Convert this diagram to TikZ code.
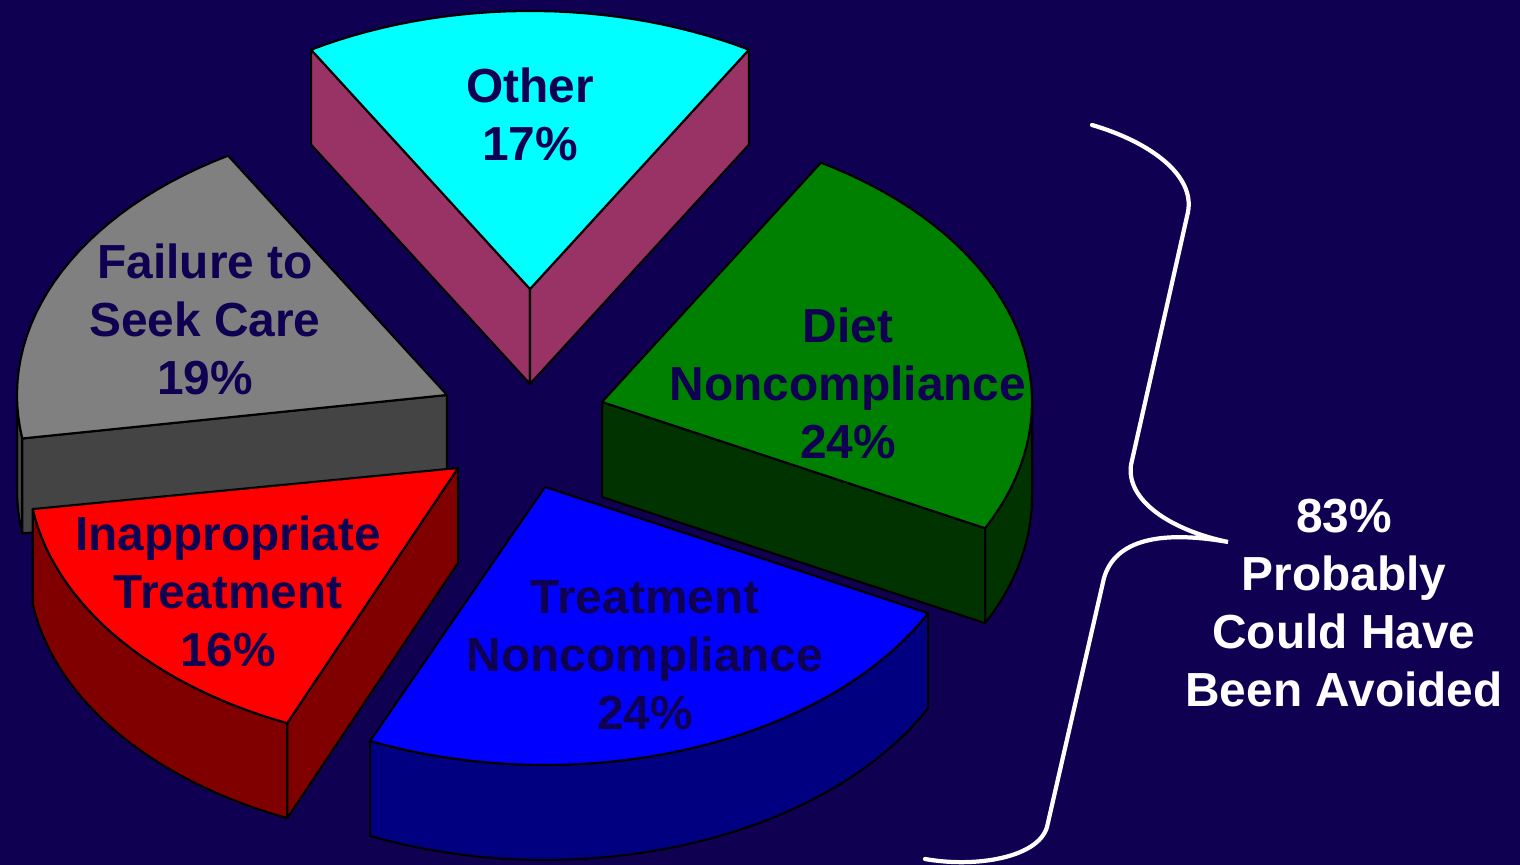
\documentclass[tikz,border=0pt]{standalone}
\usepackage{fontspec}
\setmainfont{Liberation Sans}
\usepackage{tikz}
\definecolor{ChartNavy}{HTML}{100052}
\definecolor{OtherTop}{HTML}{00FFFF}
\definecolor{OtherSide}{HTML}{993366}
\definecolor{DietTop}{HTML}{008000}
\definecolor{DietSide}{HTML}{003300}
\definecolor{TreatTop}{HTML}{0000FF}
\definecolor{TreatSide}{HTML}{000080}
\definecolor{InappTop}{HTML}{FF0000}
\definecolor{InappSide}{HTML}{800000}
\definecolor{FailTop}{HTML}{808080}
\definecolor{FailSide}{HTML}{444444}
\newcommand{\pieRX}{430}
\newcommand{\pieRY}{278}
\newcommand{\pieD}{95}

\begin{document}
\begin{tikzpicture}[x=0.01cm, y=-0.01cm,
  face/.style={draw=black, line width=0.6pt, line join=round},
  label/.style={font=\fontsize{13.6pt}{16.5pt}\selectfont\bfseries, align=center, inner sep=0pt, text=ChartNavy}]
  \useasboundingbox (0,0) rectangle (1520,865);
  \fill[ChartNavy] (-10,-10) rectangle (1530,875);
  % Other (back slice)
  \begin{scope}[shift={(530,289)}]
    \filldraw[face, fill=OtherSide] (0,0) -- ({\pieRX*cos(120.6)},{-\pieRY*sin(120.6)}) -- ++(0,\pieD) -- (0,\pieD) -- cycle;
    \filldraw[face, fill=OtherSide] (0,0) -- ({\pieRX*cos(59.4)},{-\pieRY*sin(59.4)}) -- ++(0,\pieD) -- (0,\pieD) -- cycle;
    \filldraw[face, fill=OtherTop] (0,0) -- plot[domain=59.4:120.6, samples=30] ({\pieRX*cos(\x)},{-\pieRY*sin(\x)}) -- cycle;
  \end{scope}
  % Failure to Seek Care
  \begin{scope}[shift={(447,395)}]
    \filldraw[face, fill=FailSide] plot[domain=180:189, samples=6] ({\pieRX*cos(\x)},{-\pieRY*sin(\x)}) -- plot[domain=189:180, samples=6] ({\pieRX*cos(\x)},{-\pieRY*sin(\x)+\pieD}) -- cycle;
    \filldraw[face, fill=FailSide] (0,0) -- ({\pieRX*cos(189)},{-\pieRY*sin(189)}) -- ++(0,\pieD) -- (0,\pieD) -- cycle;
    \filldraw[face, fill=FailTop] (0,0) -- plot[domain=120.6:189, samples=30] ({\pieRX*cos(\x)},{-\pieRY*sin(\x)}) -- cycle;
  \end{scope}
  % Diet Noncompliance
  \begin{scope}[shift={(602,402)}]
    \filldraw[face, fill=DietSide] plot[domain=-27:0, samples=12] ({\pieRX*cos(\x)},{-\pieRY*sin(\x)}) -- plot[domain=0:-27, samples=12] ({\pieRX*cos(\x)},{-\pieRY*sin(\x)+\pieD}) -- cycle;
    \filldraw[face, fill=DietSide] (0,0) -- ({\pieRX*cos(-27)},{-\pieRY*sin(-27)}) -- ++(0,\pieD) -- (0,\pieD) -- cycle;
    \filldraw[face, fill=DietTop] (0,0) -- plot[domain=-27:59.4, samples=40] ({\pieRX*cos(\x)},{-\pieRY*sin(\x)}) -- cycle;
  \end{scope}
  % Inappropriate Treatment
  \begin{scope}[shift={(458,468)}]
    \filldraw[face, fill=InappSide] plot[domain=-171.5:-113.4, samples=30] ({\pieRX*cos(\x)},{-\pieRY*sin(\x)}) -- plot[domain=-113.4:-171.5, samples=30] ({\pieRX*cos(\x)},{-\pieRY*sin(\x)+\pieD}) -- cycle;
    \filldraw[face, fill=InappSide] (0,0) -- ({\pieRX*cos(-113.4)},{-\pieRY*sin(-113.4)}) -- ++(0,\pieD) -- (0,\pieD) -- cycle;
    \filldraw[face, fill=InappTop] (0,0) -- plot[domain=-171.5:-113.4, samples=30] ({\pieRX*cos(\x)},{-\pieRY*sin(\x)}) -- cycle;
  \end{scope}
  % Treatment Noncompliance (front slice)
  \begin{scope}[shift={(545,487)}]
    \filldraw[face, fill=TreatSide] plot[domain=-114:-27, samples=40] ({\pieRX*cos(\x)},{-\pieRY*sin(\x)}) -- plot[domain=-27:-114, samples=40] ({\pieRX*cos(\x)},{-\pieRY*sin(\x)+\pieD}) -- cycle;
    \filldraw[face, fill=TreatTop] (0,0) -- plot[domain=-114:-27, samples=40] ({\pieRX*cos(\x)},{-\pieRY*sin(\x)}) -- cycle;
  \end{scope}
  % slice labels
  \node[label] (other) at (530,114) {Other\\17\%};
  \node[label] (fail) at (205,319) {Failure to\\Seek Care\\19\%};
  \node[label] (diet) at (848,383) {Diet\\Noncompliance\\24\%};
  \node[label] (inapp) at (228,591) {Inappropriate\\Treatment\\16\%};
  \node[label] (treat) at (645,655) {Treatment\\Noncompliance\\24\%};
  % brace and summary
  \coordinate (braceTop) at (1092,125);
  \coordinate (braceTip) at (1228,542);
  \coordinate (braceEnd) at (925,859);
  \draw[white, line width=1.2pt, line cap=round]
    (braceTop) .. controls (1150,142) and (1195,175) .. (1188,212) -- (1131,465)
    .. controls (1126,500) and (1170,530) .. (braceTip)
    .. controls (1160,530) and (1115,540) .. (1104,578) -- (1047,827)
    .. controls (1038,858) and (975,868) .. (braceEnd);
  \node[label, text=white] (avoided) at (1344,603) {83\%\\Probably\\Could Have\\Been Avoided};
\end{tikzpicture}
\end{document}
